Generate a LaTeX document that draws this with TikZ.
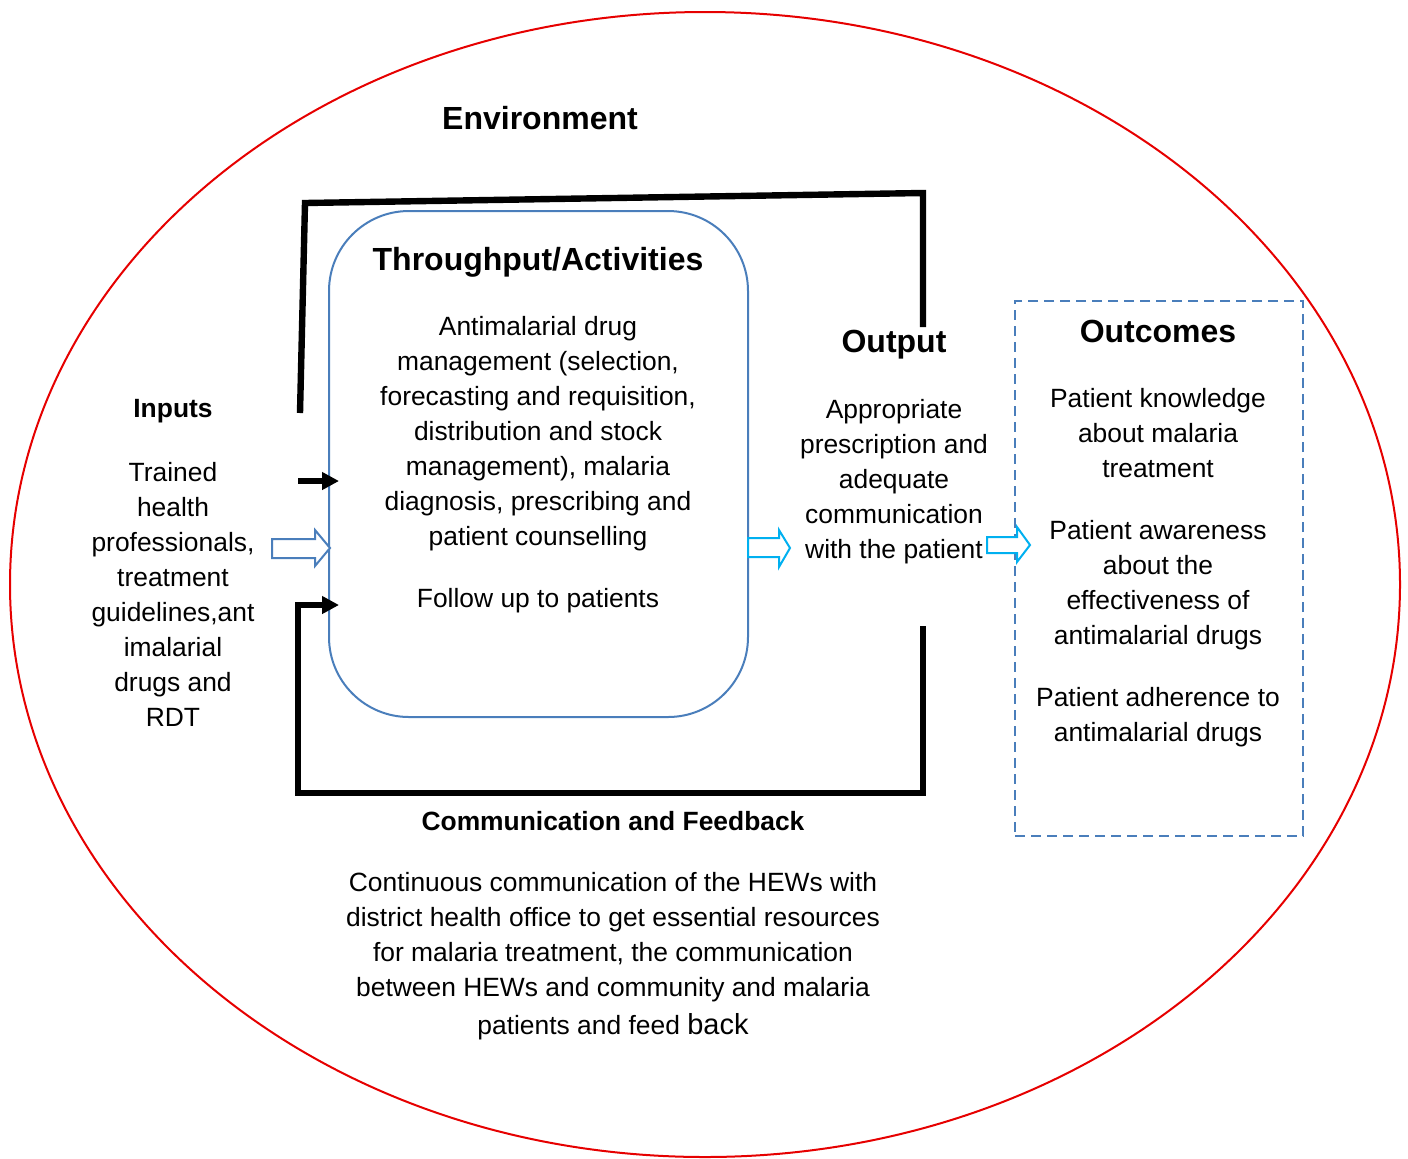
\documentclass[tikz,border=0pt]{standalone}
\usepackage{fontspec}
\setmainfont{Liberation Sans}
\usepackage{tikz}
\usetikzlibrary{arrows.meta,calc,positioning}

\definecolor{boxblue}{RGB}{74,126,187}
\definecolor{arrcyan}{RGB}{0,176,240}
\definecolor{envred}{RGB}{230,0,0}

\tikzset{
  bigtitle/.style={font=\fontsize{16}{20}\selectfont\bfseries,inner sep=0pt},
  smalltitle/.style={font=\fontsize{13.2}{17.5}\selectfont\bfseries,inner sep=0pt},
  bodytext/.style={font=\fontsize{13.2}{17.5}\selectfont,align=center,inner sep=0pt},
  thrubox/.style={draw=boxblue,line width=1pt,rounded corners=40pt},
  outbox/.style={draw=boxblue,line width=1pt,dash pattern=on 5pt off 3pt},
  frame/.style={line width=3.2pt},
  blockarrow/.style={line width=1pt,fill=white,line join=miter},
}

\begin{document}
\begin{tikzpicture}[x=0.5pt,y=-0.5pt]
  \useasboundingbox (0,0) rectangle (1408,1158);

  % Environment
  \draw[envred,line width=1pt] (705,584.5) ellipse [x radius=347.5pt,y radius=286.25pt];
  \node[bigtitle] (env) at (540,118) {Environment};

  % Throughput box
  \node[thrubox,minimum width=209.5pt,minimum height=253pt] (thru) at (538.5,464) {};
  \node[bigtitle] (thruTitle) at (538,262) {Throughput/Activities};
  \node[bodytext] (thruText) at (538,465)
    {Antimalarial drug\\ management (selection,\\ forecasting and requisition,\\
     distribution and stock\\ management), malaria\\ diagnosis, prescribing and\\
     patient counselling\\[13.5pt] Follow up to patients};

  % Inputs
  \node[smalltitle] (inputs) at (173,411) {Inputs};
  \node[bodytext] (inputsText) at (173,594)
    {Trained\\ health\\ professionals,\\ treatment\\ guidelines,ant\\ imalarial\\ drugs and\\ RDT};

  % Output
  \node[bigtitle] (output) at (894,345) {Output};
  \node[bodytext] (outputText) at (894,481.5)
    {Appropriate\\ prescription and\\ adequate\\ communication\\ with the patient};

  % Outcomes
  \node[outbox,minimum width=144pt,minimum height=267.5pt] (outBox) at (1159,568.5) {};
  \node[bigtitle] (outcomes) at (1158,331) {Outcomes};
  \node[bodytext] (outcomesText) at (1158,568)
    {Patient knowledge\\ about malaria\\ treatment\\[13.5pt]
     Patient awareness\\ about the\\ effectiveness of\\ antimalarial drugs\\[13.5pt]
     Patient adherence to\\ antimalarial drugs};

  % Communication and feedback
  \node[smalltitle] (commTitle) at (613,821) {Communication and Feedback};
  \node[bodytext] (commText) at (613,956)
    {Continuous communication of the HEWs with\\ district health office to get essential resources\\
     for malaria treatment, the communication\\ between HEWs and community and malaria\\[1.5pt]
     patients and feed {\fontsize{14.5}{17.5}\selectfont back}};

  % Feedback frame
  \draw[frame] (300,413) -- (305,203) -- (923,193) -- (923,327);
  \draw[frame,-{Triangle[length=8.5pt,width=8.5pt]}] (923,626) -- (923,793) -- (298,793)
    -- (298,605) -- (339,605);
  \draw[frame,-{Triangle[length=8.5pt,width=8.5pt]}] (298,481) -- (339,481);

  % Block arrows
  \draw[blockarrow,draw=boxblue] (272,539) -- (315,539) -- (315,530) -- (330,548)
    -- (315,566) -- (315,558) -- (272,558) -- cycle;
  \draw[blockarrow,draw=arrcyan] (748,538) -- (779,538) -- (779,530) -- (790,548)
    -- (779,567) -- (779,557) -- (748,557) -- cycle;
  \draw[blockarrow,draw=arrcyan] (987,537) -- (1017,537) -- (1017,527) -- (1030,545)
    -- (1017,562) -- (1017,553) -- (987,553) -- cycle;
\end{tikzpicture}
\end{document}
